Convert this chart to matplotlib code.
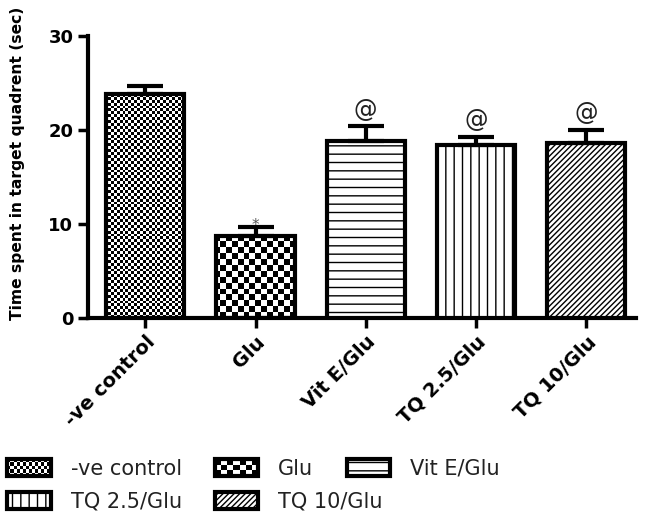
import matplotlib.pyplot as plt
import numpy as np
from matplotlib.patches import Rectangle
from matplotlib.legend_handler import HandlerBase

groups = ['-ve control', 'Glu', 'Vit E/Glu', 'TQ 2.5/Glu', 'TQ 10/Glu']
means = [23.8, 8.7, 18.8, 18.4, 18.6]
sems = [0.9, 1.0, 1.6, 0.9, 1.4]
marks = ['', '*', '@', '@', '@']
# pattern per bar: checker size (cells across the axes) or a hatch string
patterns = [('checker', 190), ('checker', 95), ('hatch', '--'), ('hatch', '||'), ('hatch', '//////')]

plt.rcParams['font.family'] = 'DejaVu Sans'
plt.rcParams['hatch.linewidth'] = 1.0

fig = plt.figure(figsize=(6.49, 5.31), dpi=100)
ax = fig.add_axes([0.1356, 0.401, 0.844, 0.531])

x = np.arange(len(groups))
xlim = (-0.52, 4.45)
ylim = (0, 30)


def checker(n):
    ny = int(n * 282 / 548)
    return (np.indices((ny, n)).sum(axis=0) % 2).astype(float)


for i, (g, m) in enumerate(zip(groups, means)):
    kind, p = patterns[i]
    if kind == 'checker':
        b = ax.bar(x[i], m, width=0.71, facecolor='none', edgecolor='black',
                   linewidth=3, zorder=3)[0]
        im = ax.imshow(checker(p), extent=(xlim[0], xlim[1], ylim[0], ylim[1]),
                       cmap='gray', vmin=0, vmax=1, aspect='auto',
                       interpolation='nearest', zorder=2)
        im.set_clip_path(b)
    else:
        ax.bar(x[i], m, width=0.71, facecolor='white', edgecolor='black',
               linewidth=3, hatch=p, zorder=3)

ax.errorbar(x, means, yerr=[np.zeros(len(sems)), sems], fmt='none',
            ecolor='black', elinewidth=3, capsize=13, capthick=3, zorder=4)

for i, mk in enumerate(marks):
    if mk == '@':
        ax.text(x[i], means[i] + sems[i] + 0.5, mk, ha='center', va='bottom',
                fontsize=17, color='#222222')
    elif mk == '*':
        ax.text(x[i], means[i] + sems[i] - 0.6, mk, ha='center', va='bottom',
                fontsize=11, color='#555555')

ax.set_xlim(*xlim)
ax.set_ylim(*ylim)
ax.set_yticks([0, 10, 20, 30])
ax.set_xticks(x)
ax.set_xticklabels(groups, rotation=45, ha='right', rotation_mode='anchor',
                   fontweight='bold', fontsize=14)
for lab in ax.get_yticklabels():
    lab.set_fontweight('bold')
    lab.set_fontsize(13)
ax.tick_params(axis='both', width=2.5, length=7, direction='out')
ax.spines['top'].set_visible(False)
ax.spines['right'].set_visible(False)
ax.spines['left'].set_linewidth(3)
ax.spines['bottom'].set_linewidth(3)
ax.set_ylabel('Time spent in target quadrent (sec)', fontweight='bold', fontsize=11.2)
ax.yaxis.set_label_coords(-0.115, 0.55)


class CheckerHandler(HandlerBase):
    def __init__(self, n):
        super().__init__()
        self.n = n

    def create_artists(self, legend, orig_handle, xdescent, ydescent, width,
                       height, fontsize, trans):
        arts = []
        ny = max(2, int(round(self.n * height / width)))
        cw = width / self.n
        ch = height / ny
        for r in range(ny):
            for c in range(self.n):
                if (r + c) % 2 == 0:
                    arts.append(Rectangle((-xdescent + c * cw, -ydescent + r * ch), cw, ch,
                                          facecolor='black', edgecolor='none', transform=trans))
        arts.append(Rectangle((-xdescent, -ydescent), width, height, facecolor='none',
                              edgecolor='black', linewidth=3, transform=trans))
        return arts


handles = []
handler_map = {}
for i, g in enumerate(groups):
    kind, p = patterns[i]
    if kind == 'checker':
        h = Rectangle((0, 0), 1, 1, facecolor='white', edgecolor='black', linewidth=3)
        handler_map[h] = CheckerHandler(14 if p > 150 else 7)
    else:
        h = Rectangle((0, 0), 1, 1, facecolor='white', edgecolor='black', linewidth=3, hatch=p)
    handles.append(h)

# legend laid out as two flowing rows, like the reference
rows = [([0, 1, 2], 0.144), ([3, 4], 0.082)]
for idx, ytop in rows:
    fig.legend([handles[k] for k in idx], [groups[k] for k in idx], ncol=len(idx),
               loc='upper left', bbox_to_anchor=(0.005, ytop),
               frameon=False, fontsize=15, handlelength=2.07, handleheight=0.87,
               handletextpad=0.96, columnspacing=1.6,
               borderpad=0.2, handler_map=handler_map, labelcolor='#222222',
               borderaxespad=0.0)

fig.savefig('out.png', dpi=100)
